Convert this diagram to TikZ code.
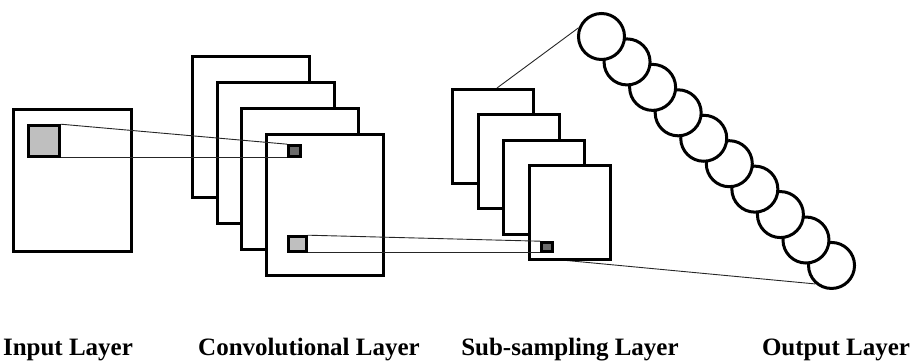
\documentclass[tikz,border=0pt]{standalone}
\usepackage{fontspec}
\setmainfont{Liberation Serif}
\usetikzlibrary{backgrounds}
\begin{document}
\begin{tikzpicture}[x=1pt,y=-1pt,
  fmap/.style={draw=black,fill=white,line width=3pt,rectangle,inner sep=0pt,
    minimum width=#1},
  convmap/.style={fmap=117pt,minimum height=141pt},
  submap/.style={fmap=81pt,minimum height=94pt},
  patch/.style={draw=black,line width=2.6pt,rectangle,inner sep=0pt},
  neuron/.style={draw=black,fill=white,line width=3pt,circle,inner sep=0pt,
    minimum size=46pt},
  link/.style={draw=black!85,line width=0.9pt},
  caption/.style={font=\fontsize{25}{28}\selectfont\bfseries,anchor=base,inner sep=0pt}]
\useasboundingbox (0,0) rectangle (914,363);

% input layer
\node[fmap=118pt,minimum height=142pt] (in) at (72.5,180.5) {};
\node[patch,fill=black!25,minimum width=31pt,minimum height=31pt] (inP) at (44,141) {};

% convolutional layer: four stacked feature maps
\foreach \i in {0,1,2,3}
  \node[convmap] (c\i) at (251+24.7*\i,127.5+25.8*\i) {};
\node[patch,fill=black!58,minimum width=12pt,minimum height=11pt] (cP) at (294.5,151) {};
\node[patch,fill=black!25,minimum width=18pt,minimum height=15pt] (cQ) at (297.5,244) {};

% sub-sampling layer
\foreach \i in {0,1,2,3}
  \node[submap] (s\i) at (493+25.67*\i,136.5+25.3*\i) {};
\node[patch,fill=black!58,minimum width=11pt,minimum height=9pt] (sP) at (547,247) {};

% output layer: ten neurons, the upper ones in front
\foreach \i in {9,8,...,0}
  \node[neuron] (n\i) at (601.5+25.56*\i,36.5+25.44*\i) {};

% fan from the pooled maps to the output neurons, kept behind the maps
\coordinate (fanTop) at (497,88);
\coordinate (fanBot) at (556,259.5);
\begin{scope}[on background layer]
  \draw[link] (fanTop) -- (n0.159);
  \draw[link] (fanBot) -- (n9.229);
\end{scope}

% receptive-field links
\draw[link] (inP.north east) -- (cP.north west);
\draw[link] (inP.south east) -- (cP.south west);
\draw[link] (cQ.north east) -- (sP.north west);
\draw[link] (cQ.south east) -- (sP.south west);

% captions
\node[caption] (tIn)  at (68,356)  {Input Layer};
\node[caption] (tCv)  at (309,356) {Convolutional Layer};
\node[caption] (tSub) at (570,356) {Sub-sampling Layer};
\node[caption] (tOut) at (836,356) {Output Layer};
\end{tikzpicture}
\end{document}
